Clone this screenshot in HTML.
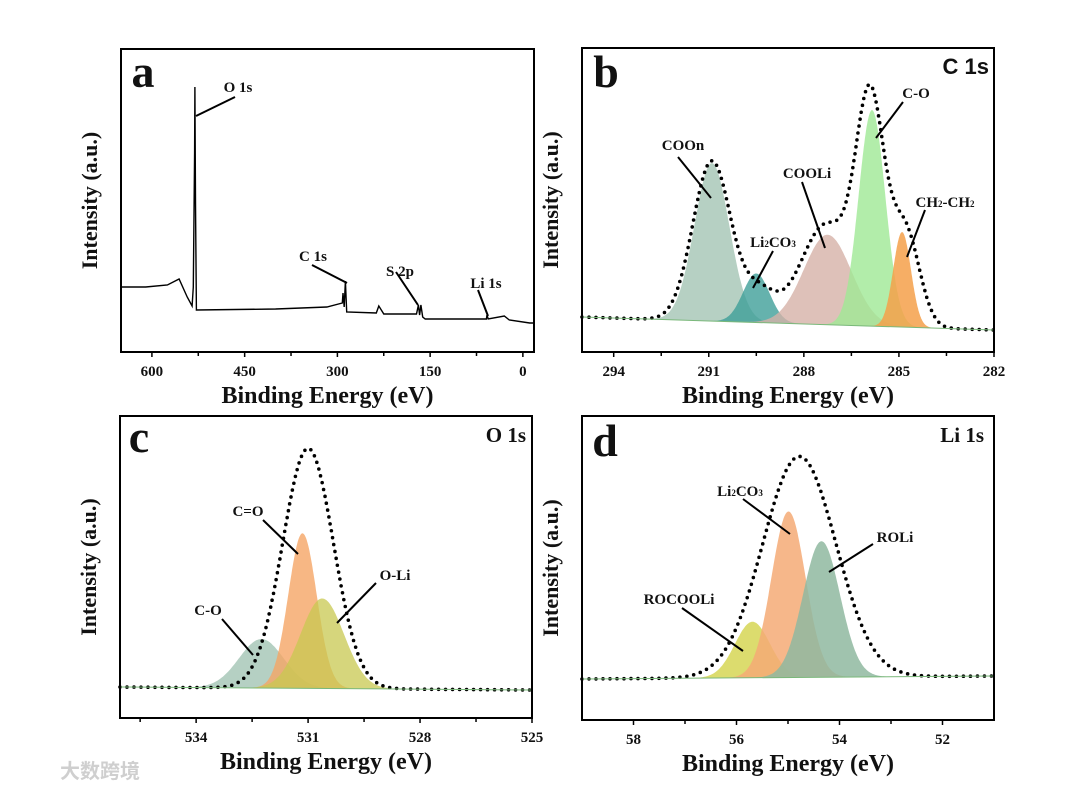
<!DOCTYPE html>
<html><head><meta charset="utf-8">
<style>
html,body{margin:0;padding:0;background:#fff;}
svg{display:block;}
text{font-family:"Liberation Serif",serif;font-weight:bold;fill:#111;}
</style></head>
<body>
<svg id="fig" width="1080" height="791" viewBox="0 0 1080 791" xmlns="http://www.w3.org/2000/svg"></svg>
<script>
// ---------- Panel a: survey ----------
const aEnergy = [650,610,575,556,543,535,533,531,530.4,529.5,528,400,317,292,291,289,287,285,237,233,229,225,172,169,167,165,162,158,59,58,56,30,22,-11,-18];
const aIntensity = [65,65,67,73,55,46,65,200,265,150,42,43,45,49,59,45,71,40,39,46,42,38,38,47,37,47,35,33,33,37,33,36,32,29,29];
const aTicks = [600,450,300,150,0];
const aMinor = [525,375,225,75];
// ---------- Panel b: C 1s ----------
const bNames = ["COOn","Li2CO3","COOLi","C-O","CH2-CH2"];
const bCenter = [290.9,289.5,287.25,285.85,284.9];
const bHeight = [158,49,90,216,95];
const bSigma = [0.55,0.42,0.75,0.42,0.28];
const bEnvCenter = [290.9,289.4,287.3,285.9,284.8];
const bEnvHeight = [160,30,100,215,95];
const bEnvSigma = [0.6,0.5,0.8,0.45,0.45];
const bBaseline = [35,22];
const bTicks = [294,291,288,285,282];
const bMinor = [292.5,289.5,286.5,283.5];
// ---------- Panel c: O 1s ----------
const cNames = ["C-O","C=O","O-Li"];
const cCenter = [532.25,531.15,530.62];
const cHeight = [49,155,90];
const cSigma = [0.6,0.38,0.58];
const cEnvelope = [531.0,240,0.68];
const cBaseline = [31,28];
const cTicks = [534,531,528,525];
const cMinor = [535.5,532.5,529.5,526.5];
// ---------- Panel d: Li 1s ----------
const dNames = ["ROCOOLi","Li2CO3","ROLi"];
const dCenter = [55.69,54.99,54.35];
const dHeight = [56,166,136];
const dSigma = [0.34,0.33,0.36];
const dEnvelope = [54.78,221,0.71];
const dBaseline = [41,44];
const dTicks = [58,56,54,52];
const dMinor = [57,55,53];

const NS="http://www.w3.org/2000/svg";
const svg=document.getElementById('fig');
function mk(tag,attrs,parent){const e=document.createElementNS(NS,tag);for(const k in attrs)e.setAttribute(k,attrs[k]);(parent||svg).appendChild(e);return e;}
function txt(str,x,y,size,anchor,parent,family){const t=mk('text',{x:x,y:y,'font-size':size,'text-anchor':anchor||'middle'},parent);if(family)t.setAttribute('style','font-family:'+family);t.textContent=str;return t;}
function gauss(e,c,h,s){return h*Math.exp(-((e-c)*(e-c))/(2*s*s));}

function frame(p){
  const g=mk('g',{});
  
  
  p.x=e=>p.left+(p.emax-e)/(p.emax-p.emin)*(p.right-p.left);
  p.y=v=>p.bottom-v;
  p.g=g;
  return g;
}
function axes(p,ticks,minor){
  const box=mk('rect',{x:p.left,y:p.top,width:p.right-p.left,height:p.bottom-p.top,fill:'none',stroke:'#000','stroke-width':2},p.g);
  
  
  ticks.forEach(t=>{
    const x=p.x(t);
    const l=mk('line',{x1:x,x2:x,y1:p.bottom,y2:p.bottom+5,stroke:'#000','stroke-width':1.5},p.g);
    
    
    const tl=txt(String(t),x,p.bottom+24,15,'middle',p.g);
    
    
  });
  minor.forEach(t=>{
    const x=p.x(t);
    const l=mk('line',{x1:x,x2:x,y1:p.bottom,y2:p.bottom+4,stroke:'#000','stroke-width':1.5},p.g);
    
    
  });
  const xt=txt('Binding Energy (eV)',(p.left+p.right)/2,p.bottom+51,24,'middle',p.g);
  
  
  const cy=(p.top+p.bottom)/2, cx=p.left-24;
  const yt=txt('Intensity (a.u.)',cx,cy,22,'middle',p.g);
  yt.setAttribute('transform','rotate(-90 '+cx+' '+cy+')');
  
  
}
function baseAt(p,bl,e){return bl[0]+(bl[1]-bl[0])*(p.emax-e)/(p.emax-p.emin);}
function component(p,bl,c,h,s,color,op,name){
  let d='';const N=220;const lo=Math.max(p.emin,c-4.5*s),hi=Math.min(p.emax,c+4.5*s);
  for(let i=0;i<=N;i++){const e=hi-(hi-lo)*i/N;const v=baseAt(p,bl,e)+gauss(e,c,h,s);d+=(i?'L':'M')+p.x(e).toFixed(1)+','+p.y(v).toFixed(1);}
  for(let i=N;i>=0;i--){const e=hi-(hi-lo)*i/N;d+='L'+p.x(e).toFixed(1)+','+p.y(baseAt(p,bl,e)).toFixed(1);}
  const path=mk('path',{d:d+'Z',fill:color,'fill-opacity':op,stroke:'none'},p.g);
  
  
}
function envelope(p,bl,fn){
  let d='';const N=400;
  for(let i=0;i<=N;i++){const e=p.emax-(p.emax-p.emin)*i/N;const v=baseAt(p,bl,e)+fn(e);d+=(i?'L':'M')+p.x(e).toFixed(1)+','+p.y(v).toFixed(1);}
  const path=mk('path',{d:d,fill:'none',stroke:'#000','stroke-width':3.6,'stroke-dasharray':'0 7','stroke-linecap':'round'},p.g);
  
  
  const bp=mk('line',{x1:p.x(p.emax),y1:p.y(bl[0]),x2:p.x(p.emin),y2:p.y(bl[1]),stroke:'#7ab87a','stroke-width':1},p.g);
  
  
}
function label(p,str,x,y,lx1,ly1,lx2,ly2,name,size,sub){
  const t=mk('text',{x:x,y:y,'font-size':size||15,'text-anchor':'middle'},p.g);
  if(sub){sub.forEach(part=>{const ts=mk('tspan',{'font-size':part[1]?9:(size||15)},t);ts.textContent=part[0];});}
  else t.textContent=str;
  
  
  const l=mk('line',{x1:lx1,y1:ly1,x2:lx2,y2:ly2,stroke:'#000','stroke-width':2},p.g);
  
  
}

// ---- Panel a ----
const pa={name:'survey',left:121,right:534,top:49,bottom:352,emax:650,emin:-18};
frame(pa);
{
  let d='';aEnergy.forEach((e,i)=>{d+=(i?'L':'M')+pa.x(e).toFixed(1)+','+pa.y(aIntensity[i]).toFixed(1);});
  const path=mk('path',{d:d,fill:'none',stroke:'#000','stroke-width':1.4},pa.g);
  
  
}
axes(pa,aTicks,aMinor);
label(pa,'O 1s',238,92,235,97,196,116,'o1s',15);
label(pa,'C 1s',313,261,312,265,347,283,'c1s',15);
label(pa,'S 2p',400,276,396,272,418,305,'s2p',15);
label(pa,'Li 1s',486,288,478,290,488,316,'li1s',15);
{const t=txt('a',143,87,46,'middle',pa.g);}

// ---- Panel b ----
const pb={name:'c1s',left:582,right:994,top:48,bottom:352,emax:295,emin:282};
frame(pb);
const bColors=['#a9c8b8','#3f9f98','#d6b2a8','#9fe895','#f5a04a'];
const bOp=[0.85,0.8,0.8,0.8,0.85];
bNames.forEach((n,i)=>component(pb,bBaseline,bCenter[i],bHeight[i],bSigma[i],bColors[i],bOp[i],n));
envelope(pb,bBaseline,e=>bEnvCenter.reduce((s,c,i)=>s+gauss(e,c,bEnvHeight[i],bEnvSigma[i]),0));
axes(pb,bTicks,bMinor);
label(pb,'COOn',683,150,678,157,711,198,'COOn',15);
label(pb,'',773,247,773,251,753,288,'Li2CO3',15,[['Li',0],['2',1],['CO',0],['3',1]]);
label(pb,'COOLi',807,178,802,182,825,248,'COOLi',15);
label(pb,'C-O',916,98,903,102,876,138,'C-O',15);
label(pb,'',945,207,925,210,907,257,'CH2-CH2',15,[['CH',0],['2',1],['-CH',0],['2',1]]);
{const t=txt('b',606,87,46,'middle',pb.g);}
{const t=txt('C 1s',989,74,22,'end',pb.g,'"Liberation Sans",sans-serif');}

// ---- Panel c ----
const pc={name:'o1s',left:120,right:532,top:416,bottom:718,emax:536.04,emin:525};
frame(pc);
const cColors=['#a8c8b8','#f5a565','#c8c850'];
const cOp=[0.85,0.8,0.75];
cNames.forEach((n,i)=>component(pc,cBaseline,cCenter[i],cHeight[i],cSigma[i],cColors[i],cOp[i],n));
envelope(pc,cBaseline,e=>gauss(e,cEnvelope[0],cEnvelope[1],cEnvelope[2]));
axes(pc,cTicks,cMinor);
label(pc,'C=O',248,516,263,520,298,554,'C=O',15);
label(pc,'O-Li',395,580,376,583,337,623,'O-Li',15);
label(pc,'C-O',208,615,222,619,253,655,'C-O',15);
{const t=txt('c',139,452,46,'middle',pc.g);}
{const t=txt('O 1s',526,442,21,'end',pc.g);}

// ---- Panel d ----
const pd={name:'li1s',left:582,right:994,top:416,bottom:720,emax:59.0,emin:51.0};
frame(pd);
const dColors=['#d6d655','#f5aa75','#8fb8a0'];
const dOp=[0.85,0.85,0.85];
dNames.forEach((n,i)=>component(pd,dBaseline,dCenter[i],dHeight[i],dSigma[i],dColors[i],dOp[i],n));
envelope(pd,dBaseline,e=>gauss(e,dEnvelope[0],dEnvelope[1],dEnvelope[2]));
axes(pd,dTicks,dMinor);
label(pd,'',740,496,743,499,790,534,'Li2CO3',15,[['Li',0],['2',1],['CO',0],['3',1]]);
label(pd,'ROLi',895,542,873,544,829,572,'ROLi',15);
label(pd,'ROCOOLi',679,604,682,608,743,651,'ROCOOLi',15);
{const t=txt('d',605,456,46,'middle',pd.g);}
{const t=txt('Li 1s',984,442,21,'end',pd.g);}

// watermark
{const t=txt('大数跨境',60,778,20,'start',svg);t.setAttribute('style','font-family:"Noto Sans CJK SC",sans-serif;fill:#cfcfcf');}
</script>
</body></html>
